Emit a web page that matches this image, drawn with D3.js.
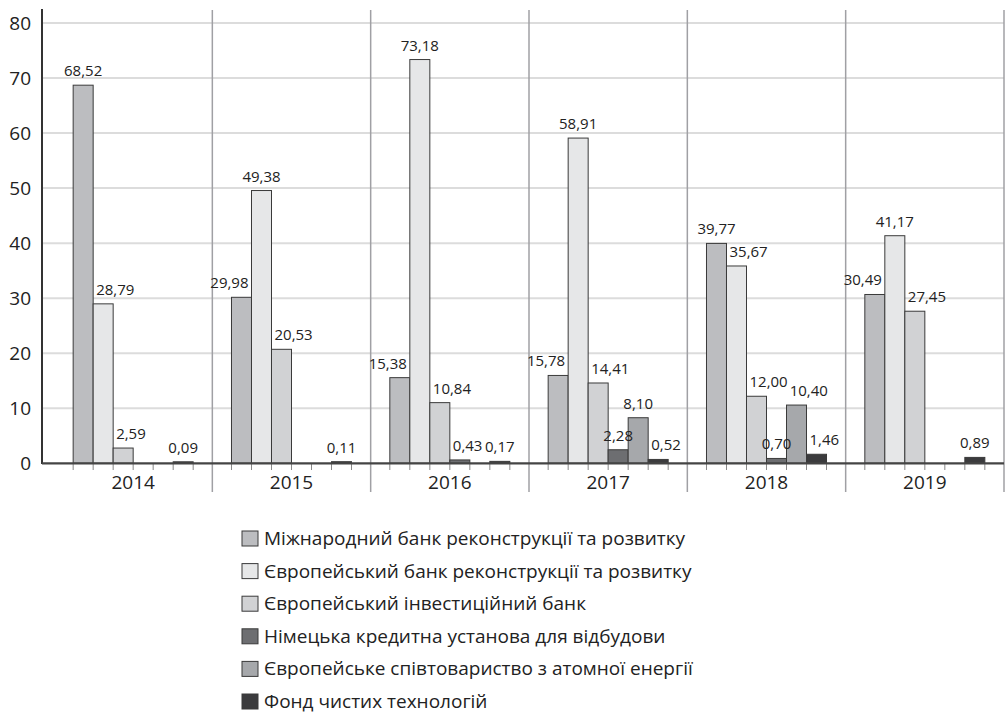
<!DOCTYPE html>
<html>
<head>
<meta charset="utf-8">
<script src="https://cdn.jsdelivr.net/npm/d3@7"></script>
<style>
  body { margin: 0; background: #fff; }
  text { font-family: "Open Sans", sans-serif; fill: #222; }
</style>
</head>
<body>
<div id="chart"></div>
<script>
const years = ["2014", "2015", "2016", "2017", "2018", "2019"];
const seriesNames = [
  "Міжнародний банк реконструкції та розвитку",
  "Європейський банк реконструкції та розвитку",
  "Європейський інвестиційний банк",
  "Німецька кредитна установа для відбудови",
  "Європейське співтовариство з атомної енергії",
  "Фонд чистих технологій",
];
const mbrr = [68.52, 29.98, 15.38, 15.78, 39.77, 30.49];
const ebrr = [28.79, 49.38, 73.18, 58.91, 35.67, 41.17];
const eib = [2.59, 20.53, 10.84, 14.41, 12.0, 27.45];
const kfw = [0, 0, 0.43, 2.28, 0.7, 0];
const euratom = [0, 0, 0, 8.1, 10.4, 0];
const ctf = [0.09, 0.11, 0.17, 0.52, 1.46, 0.89];
const yTicks = [0, 10, 20, 30, 40, 50, 60, 70, 80];

const series = [mbrr, ebrr, eib, kfw, euratom, ctf];
const colors = ["#bcbdc0", "#e6e7e8", "#d1d2d4", "#6d6e71", "#a6a8ab", "#3b3b3d"];

const width = 1006, height = 716;
const svg = d3.select("#chart").append("svg")
  .attr("width", width).attr("height", height);

// scales
const x0 = d3.scaleBand().domain(years).range([54, 1004]);
const bw = x0.bandwidth();
const x1 = d3.scaleBand().domain(d3.range(6)).range([bw * 0.121, bw * 0.879]);
const y = d3.scaleLinear().domain([0, 80]).range([463.3, 23]);

// gridlines
svg.append("g").selectAll("line").data(yTicks.slice(1)).join("line")
  .attr("x1", 42).attr("x2", 1004)
  .attr("y1", d => y(d)).attr("y2", d => y(d))
  .attr("stroke", "#dcdcdc").attr("stroke-width", 2);

// category separators
svg.append("g").selectAll("line").data(years).join("line")
  .attr("x1", d => x0(d) + bw).attr("x2", d => x0(d) + bw)
  .attr("y1", 10).attr("y2", 492)
  .attr("stroke", "#a0a0a4").attr("stroke-width", 1.5);

// y axis
const yAxis = svg.append("g")
  .attr("transform", "translate(42,0)")
  .call(d3.axisLeft(y).tickValues(yTicks).tickSize(0).tickPadding(11));
yAxis.select(".domain").remove();
yAxis.selectAll("text").style("font-size", "19px").attr("fill", "#222")
  .style("font-family", "'Open Sans', sans-serif");
svg.append("line").attr("x1", 42).attr("x2", 42).attr("y1", 9).attr("y2", 464)
  .attr("stroke", "#333").attr("stroke-width", 2);

// bars
const fmt = v => d3.format(".2f")(v).replace(".", ",");
years.forEach((yr, i) => {
  const g = svg.append("g").attr("transform", `translate(${x0(yr)},0)`);
  const vals = series.map(s => s[i]);
  g.selectAll("rect").data(vals).join("rect")
    .attr("x", (d, j) => x1(j))
    .attr("y", d => y(d) - (d > 0 ? 1 : 0))
    .attr("width", x1.bandwidth())
    .attr("height", d => y(0) - y(d) + (d > 0 ? 1 : 0))
    .attr("fill", (d, j) => colors[j])
    .attr("stroke", "#3a3a3a").attr("stroke-width", 1)
    .style("display", d => d > 0 ? null : "none");

  // value labels, nudged away from a taller neighbour and from earlier labels
  const placed = [];
  vals.forEach((v, j) => {
    if (v <= 0) return;
    const t = g.append("text")
      .attr("y", y(v) - 10)
      .attr("text-anchor", "middle")
      .style("font-size", "15px")
      .text(fmt(v));
    const tw = t.node().getComputedTextLength();
    const left = j > 0 ? vals[j - 1] : 0;
    const right = j < 5 ? vals[j + 1] : 0;
    let dx = 0;
    const tallL = left > v, tallR = right > v;
    if (tallR && !tallL) dx = -((tw - x1.bandwidth()) / 2 + 3);
    else if (tallL && !tallR) dx = (tw - x1.bandwidth()) / 2 + 3;
    let cx = x1(j) + x1.bandwidth() / 2 + dx;
    const ty = y(v) - 10;
    placed.forEach(p => {
      if (Math.abs(p.y - ty) < 16 && cx - tw / 2 < p.r + 2) cx = p.r + 2 + tw / 2;
    });
    t.attr("x", cx);
    placed.push({ r: cx + tw / 2, y: ty });
  });

  // minor ticks at bar edges
  g.selectAll("line.tk").data(d3.range(7)).join("line")
    .attr("class", "tk")
    .attr("x1", k => x1.range()[0] + k * x1.bandwidth())
    .attr("x2", k => x1.range()[0] + k * x1.bandwidth())
    .attr("y1", 463).attr("y2", 470)
    .attr("stroke", "#888").attr("stroke-width", 1);
});

// baseline
svg.append("line").attr("x1", 42).attr("x2", 1004).attr("y1", y(0)).attr("y2", y(0))
  .attr("stroke", "#444").attr("stroke-width", 2.2);

// x axis labels
const xAxis = svg.append("g")
  .attr("transform", `translate(0,${y(0)})`)
  .call(d3.axisBottom(x0).tickSize(0).tickPadding(12));
xAxis.select(".domain").remove();
xAxis.selectAll("text").style("font-size", "19px").attr("fill", "#222")
  .style("font-family", "'Open Sans', sans-serif");

// legend
const legend = svg.append("g").attr("transform", "translate(242,0)");
seriesNames.forEach((name, i) => {
  const ly = 545 + i * 32.6;
  legend.append("rect")
    .attr("x", 0).attr("y", ly - 14).attr("width", 16).attr("height", 15)
    .attr("fill", colors[i]).attr("stroke", "#3a3a3a").attr("stroke-width", 1);
  legend.append("text")
    .attr("x", 22).attr("y", ly)
    .style("font-size", "19px")
    .text(name);
});
</script>
</body>
</html>
